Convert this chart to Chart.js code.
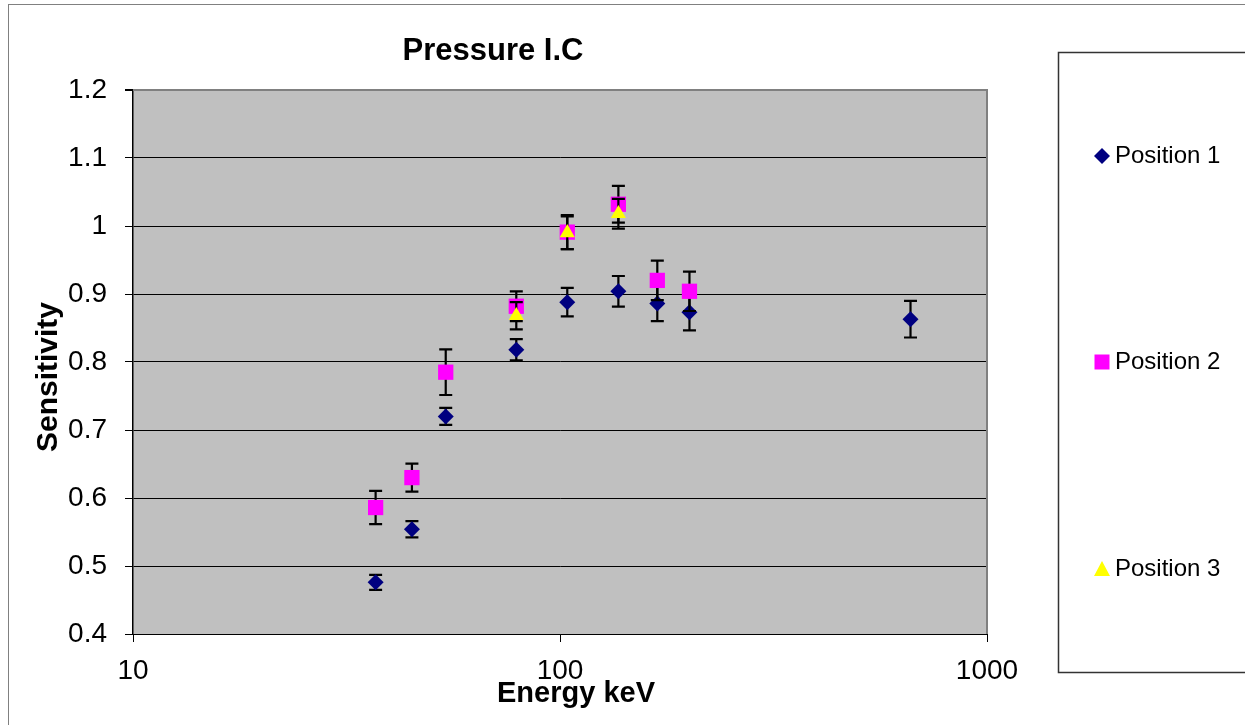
<!DOCTYPE html>
<html>
<head>
<meta charset="utf-8">
<script src="https://cdn.jsdelivr.net/npm/chart.js@4.4.1/dist/chart.umd.min.js"></script>
<style>
  html, body { margin: 0; padding: 0; background: #ffffff; }
  #wrap { width: 1245px; height: 725px; }
</style>
</head>
<body>
<div id="wrap"><canvas id="c" width="1245" height="725"></canvas></div>
<script>
// ---- data ----
const chartTitle = 'Pressure I.C';
const xAxisTitle = 'Energy keV';
const yAxisTitle = 'Sensitivity';
const seriesNames = ['Position 1', 'Position 2', 'Position 3'];

const energiesP1 = [37, 45, 54, 79, 104, 137, 169, 201, 662];
const sensP1     = [0.476, 0.554, 0.720, 0.818, 0.888, 0.904, 0.886, 0.873, 0.863];
const errP1      = [0.011, 0.012, 0.0125, 0.0155, 0.021, 0.0225, 0.026, 0.0265, 0.027];

const energiesP2 = [37, 45, 54, 79, 104, 137, 169, 201];
const sensP2     = [0.586, 0.630, 0.785, 0.882, 0.991, 1.032, 0.920, 0.904];
const errP2      = [0.0245, 0.0205, 0.0335, 0.022, 0.025, 0.027, 0.029, 0.029];

const energiesP3 = [79, 104, 137];
const sensP3     = [0.868, 0.990, 1.018];
const errP3      = [0.020, 0.024, 0.022];

const xTickValues = [10, 100, 1000];
const xTickLabels = ['10', '100', '1000'];
const yMin = 0.4, yMax = 1.2, yStep = 0.1;

// ---- helpers ----
function pts(xs, ys) { return xs.map((x, i) => ({ x: x, y: ys[i] })); }
const FONT = "'Liberation Sans', Arial, Helvetica, sans-serif";

const bgPlugin = {
  id: 'bgPlugin',
  beforeDraw(chart) {
    const { ctx, chartArea: a } = chart;
    ctx.save();
    ctx.fillStyle = '#ffffff';
    ctx.fillRect(0, 0, chart.width, chart.height);
    // outer chart border
    ctx.strokeStyle = '#808080';
    ctx.lineWidth = 1;
    ctx.strokeRect(8.5, 4.5, chart.width + 20, chart.height + 20);
    // plot area
    ctx.fillStyle = '#C0C0C0';
    ctx.fillRect(a.left, a.top, a.right - a.left, a.bottom - a.top);
    ctx.restore();
  },
  beforeDatasetsDraw(chart) {
    const { ctx, chartArea: a } = chart;
    ctx.save();
    ctx.strokeStyle = '#808080';
    ctx.lineWidth = 2;
    ctx.beginPath();
    ctx.moveTo(a.left, a.top);
    ctx.lineTo(a.right, a.top);
    ctx.lineTo(a.right, a.bottom);
    ctx.stroke();
    ctx.restore();
  },
  afterDraw(chart) {
    const { ctx } = chart;
    ctx.save();
    ctx.fillStyle = '#000';
    // chart title
    ctx.font = "bold 31px " + FONT;
    ctx.textAlign = 'center';
    ctx.textBaseline = 'alphabetic';
    ctx.fillText(chartTitle, 493, 60);
    // x axis title
    ctx.font = "bold 29px " + FONT;
    ctx.fillText(xAxisTitle, 576, 702);
    // y axis title
    ctx.save();
    ctx.translate(57, 377);
    ctx.rotate(-Math.PI / 2);
    ctx.font = "bold 30px " + FONT;
    ctx.fillText(yAxisTitle, 0, 0);
    ctx.restore();
    // legend box
    ctx.strokeStyle = '#333333';
    ctx.lineWidth = 1.5;
    ctx.strokeRect(1058.5, 52.5, 300, 620);
    const ys = [156, 362, 569];
    chart.data.datasets.forEach((ds, i) => {
      const st = ds.pointStyle;
      ctx.fillStyle = ds.backgroundColor;
      const cx = 1102, cy = ys[i];
      ctx.beginPath();
      if (st === 'rectRot') {
        ctx.moveTo(cx - 8, cy); ctx.lineTo(cx, cy - 8); ctx.lineTo(cx + 8, cy); ctx.lineTo(cx, cy + 8);
      } else if (st === 'rect') {
        ctx.rect(cx - 7.5, cy - 7.5, 15, 15);
      } else {
        ctx.moveTo(cx, cy - 8); ctx.lineTo(cx + 8, cy + 7); ctx.lineTo(cx - 8, cy + 7);
      }
      ctx.closePath();
      ctx.fill();
      ctx.fillStyle = '#000';
      ctx.font = "24px " + FONT;
      ctx.textAlign = 'left';
      ctx.textBaseline = 'middle';
      ctx.fillText(ds.label, 1115, cy);
    });
    ctx.restore();
  }
};

const errorBarPlugin = {
  id: 'errorBarPlugin',
  beforeDatasetDraw(chart, args) {
    const ds = chart.data.datasets[args.index];
    if (!ds.errorBars) return;
    const { ctx } = chart;
    const xs = chart.scales.x, ysc = chart.scales.y;
    ctx.save();
    ctx.strokeStyle = '#000';
    ctx.lineWidth = 2.2;
    ds.data.forEach((p, i) => {
      const e = ds.errorBars[i];
      const px = xs.getPixelForValue(p.x);
      const t = ysc.getPixelForValue(p.y + e);
      const b = ysc.getPixelForValue(p.y - e);
      ctx.beginPath();
      ctx.moveTo(px, t); ctx.lineTo(px, b);
      ctx.moveTo(px - 6.5, t); ctx.lineTo(px + 6.5, t);
      ctx.moveTo(px - 6.5, b); ctx.lineTo(px + 6.5, b);
      ctx.stroke();
    });
    ctx.restore();
  }
};

new Chart(document.getElementById('c'), {
  type: 'scatter',
  data: {
    datasets: [
      { label: seriesNames[0], data: pts(energiesP1, sensP1), errorBars: errP1,
        pointStyle: 'rectRot', pointRadius: 8, pointHoverRadius: 8,
        backgroundColor: '#000080', borderColor: '#000080', borderWidth: 0, order: 3 },
      { label: seriesNames[1], data: pts(energiesP2, sensP2), errorBars: errP2,
        pointStyle: 'rect', pointRadius: 10.8, pointHoverRadius: 10.8,
        backgroundColor: '#FF00FF', borderColor: '#FF00FF', borderWidth: 0, order: 2 },
      { label: seriesNames[2], data: pts(energiesP3, sensP3), errorBars: errP3,
        pointStyle: 'triangle', pointRadius: 8.7, pointHoverRadius: 8.7,
        backgroundColor: '#FFFF00', borderColor: '#FFFF00', borderWidth: 0, order: 1 }
    ]
  },
  options: {
    responsive: false,
    animation: false,
    devicePixelRatio: 1,
    layout: { padding: { left: 0, top: 90, right: 258, bottom: 0 } },
    plugins: {
      legend: { display: false },
      title: { display: false },
      tooltip: { enabled: false }
    },
    scales: {
      x: {
        type: 'logarithmic',
        min: 10, max: 1000,
        afterBuildTicks(scale) { scale.ticks = xTickValues.map(v => ({ value: v })); },
        afterFit(scale) { scale.height = 91; },
        ticks: {
          color: '#000', font: { family: FONT, size: 28 }, padding: 12,
          maxRotation: 0, autoSkip: false,
          callback(v) { const i = xTickValues.indexOf(v); return i >= 0 ? xTickLabels[i] : ''; }
        },
        grid: { drawOnChartArea: false, drawTicks: true, tickLength: 8, color: '#000', lineWidth: 1 },
        border: { display: true, color: '#000', width: 1 },
        title: { display: false }
      },
      y: {
        min: yMin, max: yMax,
        afterFit(scale) { scale.width = 133; },
        ticks: {
          stepSize: yStep, color: '#000', font: { family: FONT, size: 28 }, padding: 18,
          callback(v) { return String(parseFloat(Number(v).toFixed(1))); }
        },
        grid: {
          drawOnChartArea: true, drawTicks: true, tickLength: 8,
          color(c) { return (c.tick && Math.abs(c.tick.value - yMax) < 1e-9) ? '#808080' : '#000'; },
          lineWidth(c) { return (c.tick && Math.abs(c.tick.value - yMax) < 1e-9) ? 2 : 1; },
          tickColor: '#000'
        },
        border: { display: true, color: '#000', width: 1.5 },
        title: { display: false }
      }
    }
  },
  plugins: [bgPlugin, errorBarPlugin]
});
</script>
</body>
</html>
